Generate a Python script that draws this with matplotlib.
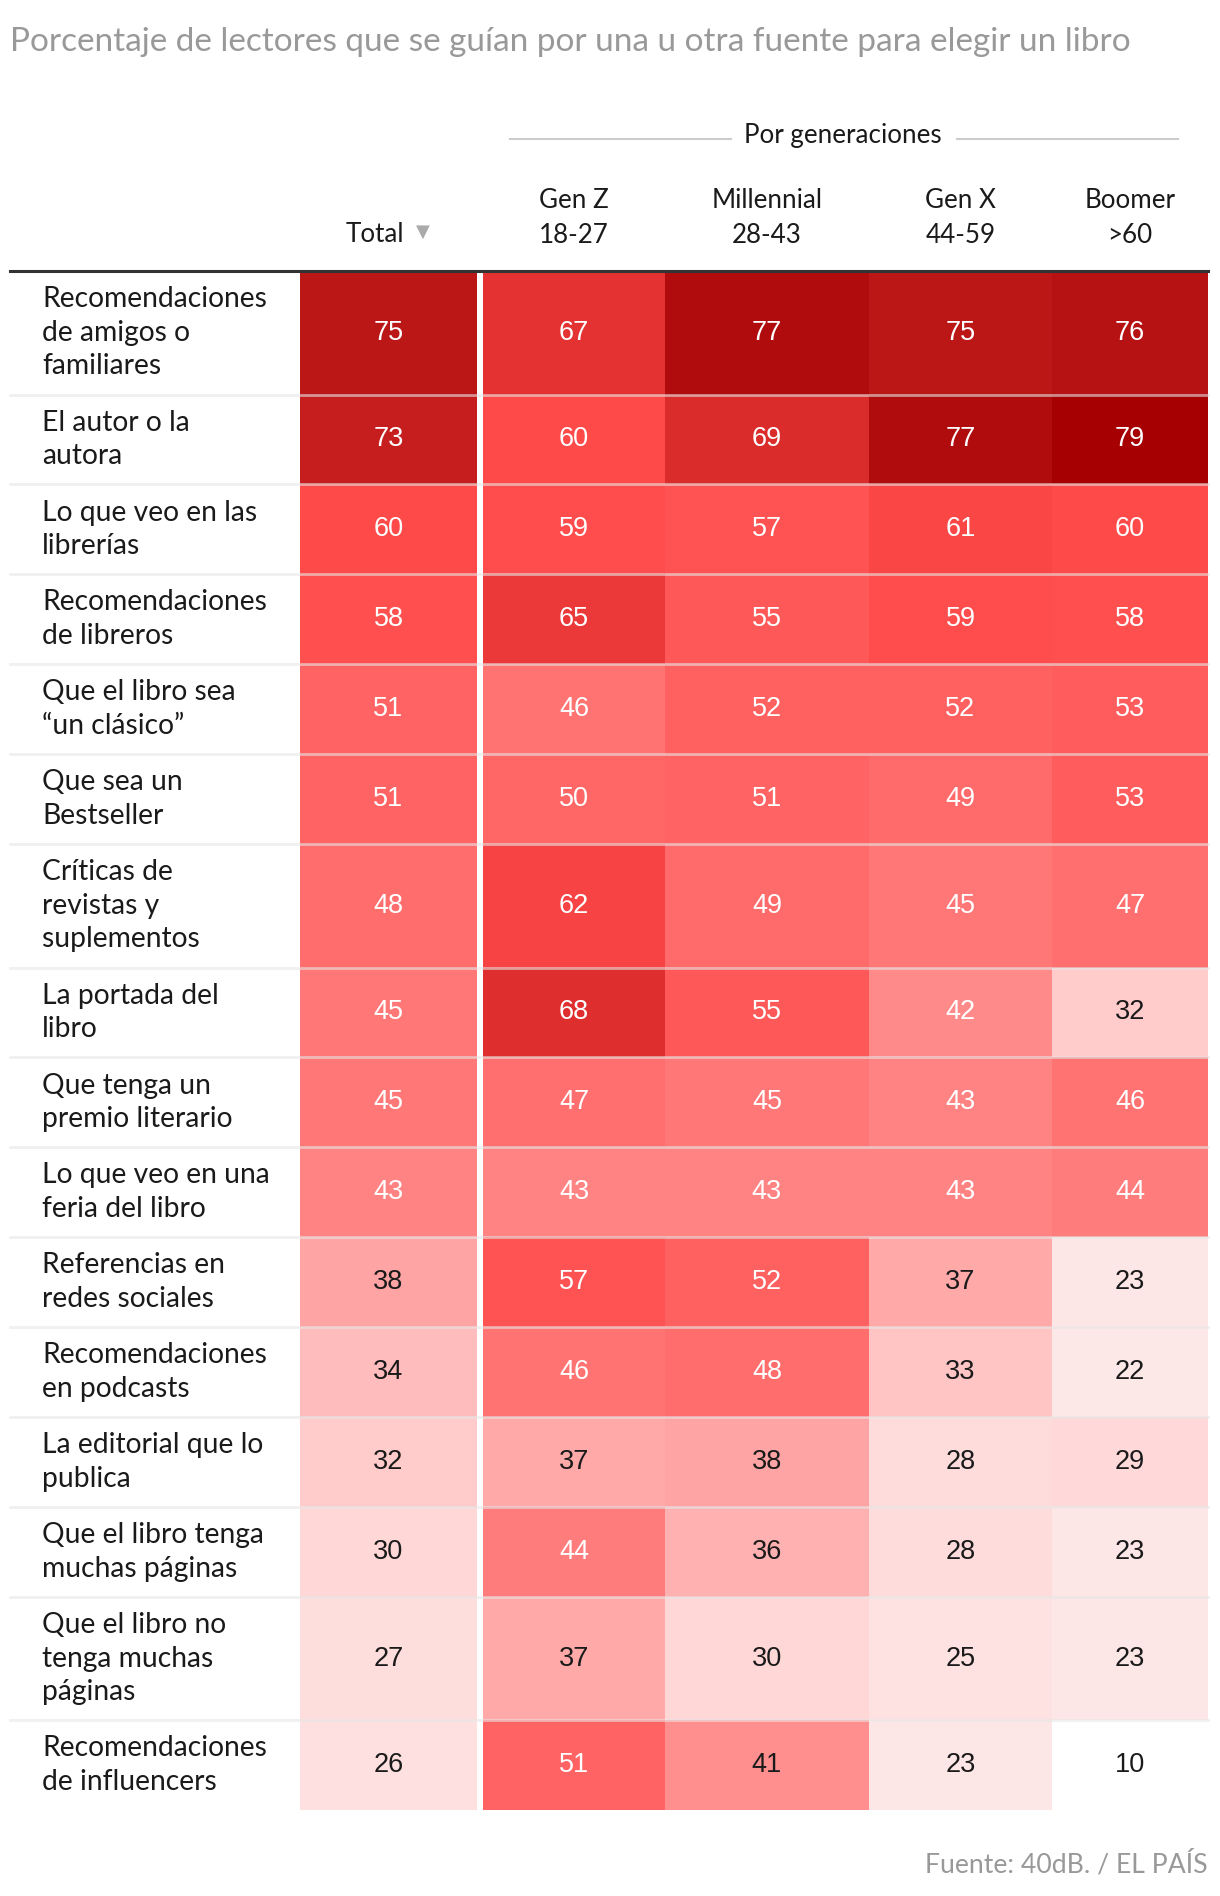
import numpy as np
import matplotlib.pyplot as plt
from matplotlib.colors import LinearSegmentedColormap

# Data
labels = [
    "Recomendaciones\nde amigos o\nfamiliares",
    "El autor o la\nautora",
    "Lo que veo en las\nlibrerías",
    "Recomendaciones\nde libreros",
    "Que el libro sea\n“un clásico”",
    "Que sea un\nBestseller",
    "Críticas de\nrevistas y\nsuplementos",
    "La portada del\nlibro",
    "Que tenga un\npremio literario",
    "Lo que veo en una\nferia del libro",
    "Referencias en\nredes sociales",
    "Recomendaciones\nen podcasts",
    "La editorial que lo\npublica",
    "Que el libro tenga\nmuchas páginas",
    "Que el libro no\ntenga muchas\npáginas",
    "Recomendaciones\nde influencers",
]
total = [75, 73, 60, 58, 51, 51, 48, 45, 45, 43, 38, 34, 32, 30, 27, 26]
gen_z = [67, 60, 59, 65, 46, 50, 62, 68, 47, 43, 57, 46, 37, 44, 37, 51]
millennial = [77, 69, 57, 55, 52, 51, 49, 55, 45, 43, 52, 48, 38, 36, 30, 41]
gen_x = [75, 77, 61, 59, 52, 49, 45, 42, 43, 43, 37, 33, 28, 28, 25, 23]
boomer = [76, 79, 60, 58, 53, 53, 47, 32, 46, 44, 23, 22, 29, 23, 23, 10]
gen_names = ["Gen Z\n18-27", "Millennial\n28-43", "Gen X\n44-59", "Boomer\n>60"]

title = "Porcentaje de lectores que se guían por una u otra fuente para elegir un libro"
source = "Fuente: 40dB. / EL PAÍS"

# colour scale
vmin, vmax = 10, 79
stops = [(10, "#ffffff"), (22, "#fde8e8"), (30, "#ffd7d7"), (38, "#ffa3a3"),
         (45, "#ff7676"), (52, "#ff6060"), (60, "#ff4a4a"), (68, "#e02f2f"),
         (75, "#bc1818"), (79, "#a60003")]
cmap = LinearSegmentedColormap.from_list(
    "elpais", [((v - vmin) / (vmax - vmin), c) for v, c in stops])

W, H = 1220, 1896
fig = plt.figure(figsize=(W / 100, H / 100), dpi=100)
ax = fig.add_axes([0, 0, 1, 1])
ax.set_xlim(0, W)
ax.set_ylim(H, 0)
ax.axis("off")

label_font = "Lato"
num_font = "Liberation Sans"

# layout (pixels)
top = 271
h3, h2 = 123.5, 89.9
heights = [h3 if lab.count("\n") == 2 else h2 for lab in labels]
y_edges = top + np.concatenate([[0], np.cumsum(heights)])
y_mid = (y_edges[:-1] + y_edges[1:]) / 2
tot_edges = np.array([300, 477])
gen_edges = np.array([483, 665, 869, 1052, 1208])
gen_mid = (gen_edges[:-1] + gen_edges[1:]) / 2
tot_mid = tot_edges.mean()

gen_vals = np.array([gen_z, millennial, gen_x, boomer]).T
tot_vals = np.array(total)[:, None]

ax.pcolormesh(tot_edges, y_edges, tot_vals, cmap=cmap, vmin=vmin, vmax=vmax)
ax.pcolormesh(gen_edges, y_edges, gen_vals, cmap=cmap, vmin=vmin, vmax=vmax)

# row separators
for y in y_edges[1:-1]:
    ax.plot([10, 1208], [y, y], color="#e6e6e6", lw=2, alpha=0.6, zorder=3)
ax.plot([10, 1208], [top, top], color="#333333", lw=2.2, zorder=4)

def txt_color(v):
    return "white" if v > 41 else "#1a1a1a"

for i, lab in enumerate(labels):
    ax.text(42, y_mid[i], lab, ha="left", va="center", fontsize=20.3,
            family=label_font, color="#1a1a1a", linespacing=1.36)
    ax.text(tot_mid, y_mid[i], str(total[i]), ha="center", va="center",
            fontsize=19.5, family=num_font, color=txt_color(total[i]), zorder=5)
    for j in range(4):
        v = gen_vals[i, j]
        ax.text(gen_mid[j], y_mid[i], str(v), ha="center", va="center",
                fontsize=19.5, family=num_font, color=txt_color(v), zorder=5)

# header
ax.text(10, 42, title, ha="left", va="center", fontsize=24,
        family=label_font, color="#999999")
ax.text(843, 135, "Por generaciones", ha="center", va="center", fontsize=18.7,
        family=label_font, color="#1a1a1a")
ax.plot([510, 731], [139, 139], color="#cccccc", lw=1.5)
ax.plot([957, 1178], [139, 139], color="#cccccc", lw=1.5)
for j, name in enumerate(gen_names):
    ax.text(gen_mid[j], 218, name, ha="center", va="center", fontsize=18.7,
            family=label_font, color="#1a1a1a", linespacing=1.5)
ax.text(375, 234, "Total", ha="center", va="center", fontsize=18.7,
        family=label_font, color="#1a1a1a")
ax.text(423, 232, "▼", ha="center", va="center", fontsize=13,
        family="DejaVu Sans", color="#aaaaaa")

ax.text(1208, 1864, source, ha="right", va="center", fontsize=19.2,
        family=label_font, color="#999999")

fig.savefig("out.png", dpi=100, facecolor="white")
